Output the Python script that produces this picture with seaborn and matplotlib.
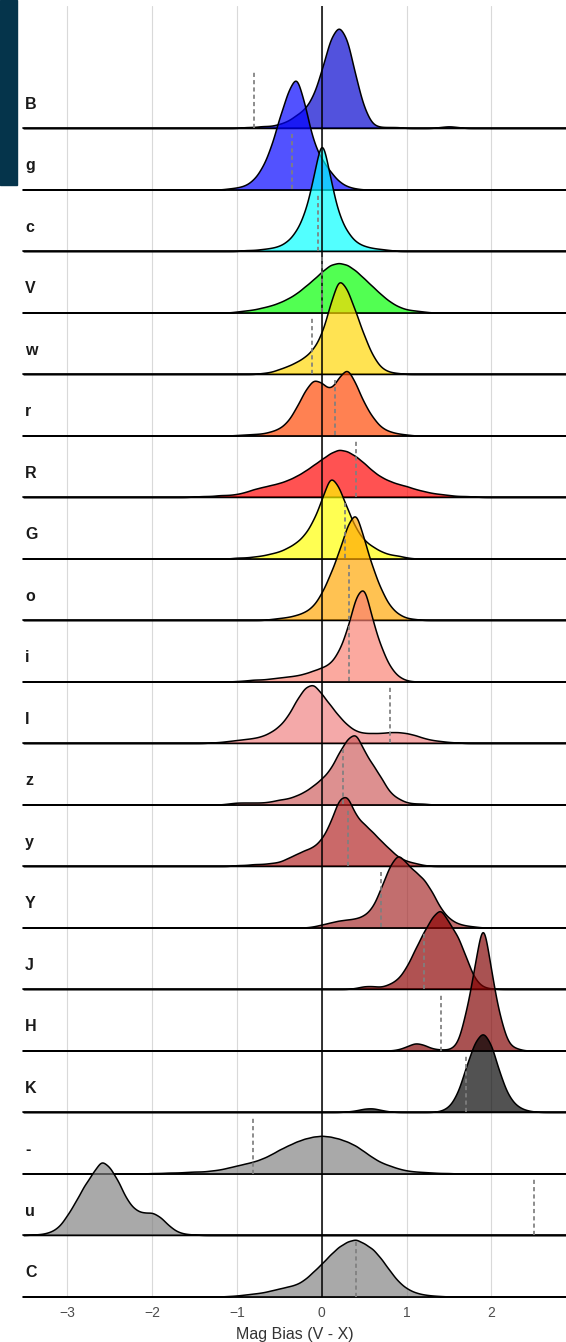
import numpy as np
import pandas as pd
import matplotlib
matplotlib.use("Agg")
import matplotlib.pyplot as plt
from matplotlib.patches import Rectangle
import seaborn as sns

sns.set_theme(style="white")
plt.rcParams['font.family'] = ['Liberation Sans', 'DejaVu Sans']

# bands, top to bottom
bands = ["B", "g", "c", "V", "w", "r", "R", "G", "o", "i",
         "I", "z", "y", "Y", "J", "H", "K", "-", "u", "C"]
colors = ["mediumblue", "blue", "cyan", "lime", "gold", "orangered", "red",
          "yellow", "orange", "salmon", "lightcoral", "indianred", "firebrick",
          "brown", "darkred", "maroon", "black", "gray", "gray", "gray"]

# mag bias (V - X) histograms, 0.1 mag bins: first bin centre + counts
bin_w = 0.1
B_from, B_counts = -0.9, [1, 1, 2, 2, 4, 7, 13, 19, 32, 58, 90, 104, 90, 51, 19, 3, 1, 1, 1,
                          0, 0, 0, 0, 1, 2, 1]
g_from, g_counts = -1.1, [1, 2, 4, 10, 22, 42, 72, 98, 117, 85, 47, 30, 18, 8, 3, 1]
c_from, c_counts = -0.9, [1, 1, 2, 3, 5, 10, 20, 38, 72, 120, 72, 36, 19, 9, 5, 3, 2, 1]
V_from, V_counts = -1.0, [1, 2, 3, 5, 7, 10, 14, 19, 26, 33, 41, 48, 50, 48, 42, 34, 26, 18,
                          11, 6, 3, 2, 1]
w_from, w_counts = -0.7, [1, 2, 5, 8, 12, 17, 25, 40, 70, 98, 85, 62, 38, 18, 6, 2, 1]
r_from, r_counts = -1.0, [0.5, 1, 1.5, 2, 4, 7, 14, 28, 45, 57, 53, 45, 58, 69, 52, 32, 18, 8,
                          4, 2, 1]
R_from, R_counts = -1.5, [0.5, 1, 1, 2, 2, 3, 5, 8, 10, 12, 14, 17, 21, 26, 32, 38, 44, 48, 46,
                          41, 34, 26, 20, 16, 13, 11, 8, 6, 4, 3, 2, 1, 1, 0.5]
G_from, G_counts = -1.0, [1, 1, 2, 3, 5, 7, 11, 16, 24, 38, 59, 85, 72, 50, 30, 18, 12, 7, 4, 3, 1]
o_from, o_counts = -0.6, [1, 2, 3, 5, 8, 14, 27, 46, 68, 95, 111, 80, 52, 30, 14, 6, 2, 1]
i_from, i_counts = -1.0, [0.5, 1, 2, 2, 3, 4, 5, 6, 8, 11, 14, 18, 30, 52, 86, 98, 60, 34, 15, 5, 1]
I_from, I_counts = -1.3, [0.5, 1, 2, 3, 4, 5, 7, 11, 17, 27, 43, 56, 60, 49, 38, 27, 18, 12, 10,
                          10, 10, 11, 11, 10, 8, 5, 3, 2, 1, 0.5]
z_from, z_counts = -1.1, [1, 2, 2, 2, 2, 3, 5, 6, 9, 13, 19, 26, 35, 52, 66, 73, 53, 40, 27, 12,
                          6, 2, 1, 1]
y_from, y_counts = -1.0, [1, 1, 2, 2, 3, 4, 8, 12, 16, 19, 27, 43, 68, 72, 50, 42, 34, 25, 17, 9,
                          5, 3, 1]
Y_from, Y_counts = -0.1, [1, 3, 5, 7, 8, 9, 12, 20, 40, 62, 75, 64, 56, 49, 36, 19, 9, 4, 2, 1]
J_from, J_counts = 0.4, [1, 3, 3, 2, 5, 10, 22, 40, 57, 72, 82, 66, 54, 32, 10, 2, 0.5]
H_from, H_counts = 0.9, [1, 4, 8, 6, 2, 1, 1, 6, 38, 82, 138, 77, 33, 6, 2]
K_from, K_counts = 0.3, [0.5, 1.5, 3.5, 4, 2, 0.5, 0, 0, 0, 0, 0, 1, 5, 18, 45, 70, 82, 68, 38,
                         16, 6, 2, 0.5]
dash_from, dash_counts = -2.0, [0.5, 0.5, 1, 1, 1.5, 2, 2, 3, 4, 6, 8, 10, 12, 15, 19, 24, 28,
                                32, 35, 37, 38, 37, 35, 32, 28, 22, 16, 11, 8, 5, 3, 2, 1.5,
                                1, 0.5, 0.5]
u_from, u_counts = -3.4, [0.5, 1, 3, 8, 20, 34, 50, 62, 76, 68, 54, 35, 25, 22, 23, 18, 9, 3, 1, 0.5]
C_from, C_counts = -1.1, [0.5, 1, 2, 3, 4, 6, 8, 10, 12, 17, 25, 33, 42, 50, 55, 58, 53, 48, 38,
                          26, 15, 8, 4, 2, 1, 0.5]

# dashed reference line per band
ref_bias = [-0.8, -0.35, -0.05, 0.0, -0.12, 0.15, 0.4, 0.27, 0.32, 0.32,
            0.8, 0.25, 0.31, 0.7, 1.2, 1.4, 1.7, -0.81, 2.5, 0.4]

starts = [B_from, g_from, c_from, V_from, w_from, r_from, R_from, G_from, o_from, i_from,
          I_from, z_from, y_from, Y_from, J_from, H_from, K_from, dash_from, u_from, C_from]
counts = [B_counts, g_counts, c_counts, V_counts, w_counts, r_counts, R_counts, G_counts,
          o_counts, i_counts, I_counts, z_counts, y_counts, Y_counts, J_counts, H_counts,
          K_counts, dash_counts, u_counts, C_counts]

df = pd.concat([pd.DataFrame({"band": b,
                              "bias": np.round(s + bin_w * np.arange(len(n)), 2),
                              "count": n})
                for b, s, n in zip(bands, starts, counts)], ignore_index=True)

# layout (pixels)
W, H = 566, 1342
left_px, top_px, bottom_px = 23.3, 6, 1296.5
row_px = (bottom_px - 128) / 19
xlim = (-3.52, 2.88)
nrow = len(bands)
kernel = 0.06

fig = plt.figure(figsize=(W / 100, H / 100), dpi=100)
fig.patches.append(Rectangle((0, 1 - 185 / H), 17.3 / W, 185 / H,
                             transform=fig.transFigure, color="#05344b", zorder=0))

pl = left_px / W
pb = (H - bottom_px) / H
pw = 1 - pl
ph = (bottom_px - top_px) / H
ytop = (bottom_px - top_px) / row_px

ax_bg = fig.add_axes([pl, pb, pw, ph])
ax_bg.set_xlim(xlim)
ax_bg.set_ylim(0, ytop)
ax_bg.set_xticks([-3, -2, -1, 0, 1, 2])
ax_bg.set_yticks([])
ax_bg.grid(axis="x", color="#d9d9d9", lw=0.8)
for s in ax_bg.spines.values():
    s.set_visible(False)
ax_bg.tick_params(axis="x", length=0, pad=7, labelsize=10, labelcolor="#4d4d4d")
ax_bg.set_xlabel("Mag Bias (V - X)", fontsize=11.5, color="#333333", labelpad=5)

# ridges: one axes per band, later bands drawn on top
for k, band in enumerate(bands):
    base = (H - bottom_px + (nrow - 1 - k) * row_px) / H
    ax = fig.add_axes([pl, base, pw, 2 * row_px / H])
    sub = df[df["band"] == band]
    sd = np.sqrt(np.cov(sub["bias"], aweights=sub["count"]))
    sns.kdeplot(x=sub["bias"], weights=sub["count"], bw_method=kernel / sd,
                fill=True, color=colors[k], alpha=0.68, edgecolor="black",
                linewidth=1.1, clip=xlim, cut=200, gridsize=1300, ax=ax)
    for coll in ax.collections:
        coll.set_clip_on(False)
    ax.axhline(0, color="#333333", lw=1.4, clip_on=False, zorder=0.5)
    ax.set_xlim(xlim)
    # shared scale: counts per 0.1 mag
    ax.set_ylim(0, 2 * row_px / (bin_w * sub["count"].sum()))
    ax.axis("off")

# overlay: zero line, dashed reference lines, band labels
ax_top = fig.add_axes([pl, pb, pw, ph])
ax_top.set_xlim(xlim)
ax_top.set_ylim(0, ytop)
ax_top.axis("off")
ax_top.axvline(0, color="black", lw=1.1)
baselines = np.arange(nrow)[::-1]
ax_top.vlines(ref_bias, baselines, baselines + 0.91, colors="#7f7f7f",
              linestyles=(0, (2.4, 1.8)), lw=1.25)
for k, band in enumerate(bands):
    ax_top.text(-3.5, baselines[k] + 0.317, band, fontsize=11.5, fontweight="bold",
                color="#1a1a1a", ha="left", va="baseline")

fig.savefig("out.png", dpi=100)
